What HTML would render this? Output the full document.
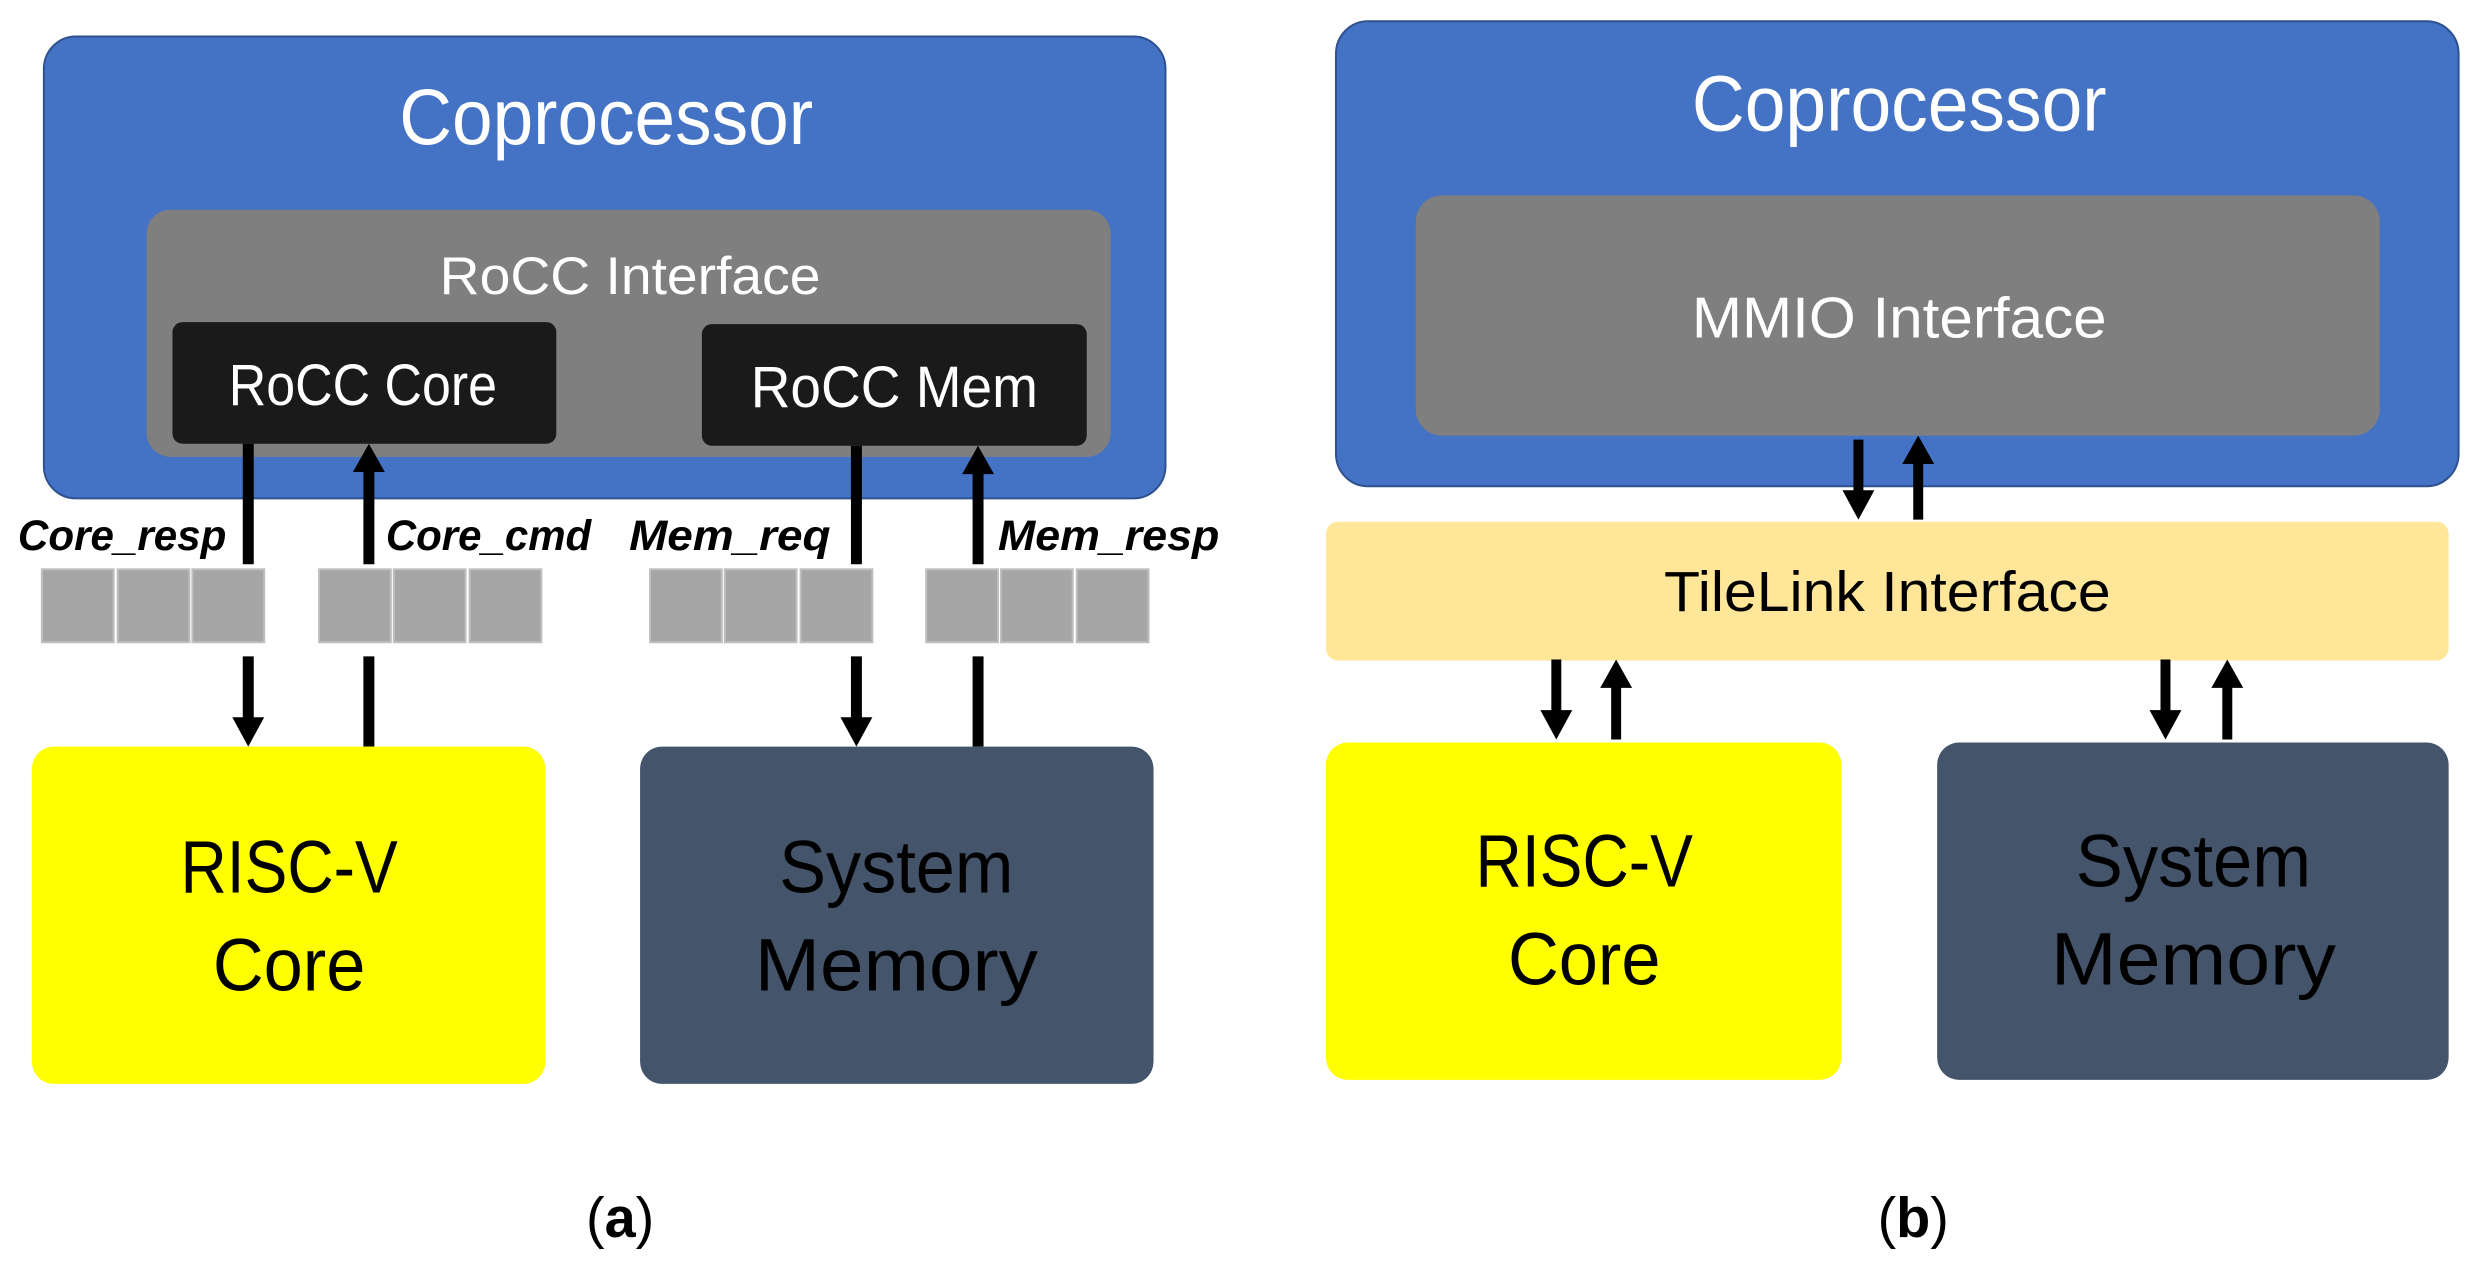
<!DOCTYPE html>
<html><head><meta charset="utf-8"><style>
html,body{margin:0;padding:0;background:#fff;}
svg{display:block;}
text{font-family:"Liberation Sans",sans-serif;}
</style></head><body>
<svg width="2483" height="1266" viewBox="0 0 2483 1266" xmlns="http://www.w3.org/2000/svg">
<g transform="scale(0.997,1.013)">
<!-- LEFT PANEL -->
<rect x="44" y="36" width="1125" height="456" rx="32" fill="#4472c4" stroke="#2f528f" stroke-width="2"/>
<text x="608" y="142" font-size="78" fill="#fff" text-anchor="middle" textLength="415" lengthAdjust="spacingAndGlyphs">Coprocessor</text>
<rect x="147" y="207" width="967" height="244" rx="24" fill="#7f7f7f"/>
<text x="632" y="290" font-size="52" fill="#fff" text-anchor="middle" textLength="382" lengthAdjust="spacingAndGlyphs">RoCC Interface</text>
<rect x="173" y="318" width="385" height="120" rx="10" fill="#1a1a1a"/>
<text x="364" y="400" font-size="58" fill="#fff" text-anchor="middle" textLength="269" lengthAdjust="spacingAndGlyphs">RoCC Core</text>
<rect x="704" y="320" width="386" height="120" rx="10" fill="#1a1a1a"/>
<text x="897" y="402" font-size="58" fill="#fff" text-anchor="middle" textLength="288" lengthAdjust="spacingAndGlyphs">RoCC Mem</text>

<g font-size="42" font-weight="bold" font-style="italic" fill="#000">
<text x="18" y="543" textLength="209" lengthAdjust="spacingAndGlyphs">Core_resp</text>
<text x="387" y="543" textLength="206" lengthAdjust="spacingAndGlyphs">Core_cmd</text>
<text x="631" y="543" textLength="202" lengthAdjust="spacingAndGlyphs">Mem_req</text>
<text x="1001" y="543" textLength="222" lengthAdjust="spacingAndGlyphs">Mem_resp</text>
</g>

<g fill="#a6a6a6" stroke="#bfbfbf" stroke-width="2">
<rect x="42" y="562" width="72" height="72"/><rect x="118" y="562" width="72" height="72"/><rect x="193" y="562" width="72" height="72"/>
<rect x="320" y="562" width="72" height="72"/><rect x="395" y="562" width="72" height="72"/><rect x="471" y="562" width="72" height="72"/>
<rect x="652" y="562" width="72" height="72"/><rect x="727" y="562" width="72" height="72"/><rect x="803" y="562" width="72" height="72"/>
<rect x="929" y="562" width="72" height="72"/><rect x="1004" y="562" width="72" height="72"/><rect x="1080" y="562" width="72" height="72"/>
</g>

<g stroke="#000" stroke-width="11" fill="none">
<line x1="249" y1="438" x2="249" y2="557"/>
<line x1="249" y1="648" x2="249" y2="712"/>
<line x1="370" y1="557" x2="370" y2="462"/>
<line x1="370" y1="648" x2="370" y2="737"/>
<line x1="859" y1="440" x2="859" y2="557"/>
<line x1="859" y1="648" x2="859" y2="712"/>
<line x1="981" y1="557" x2="981" y2="464"/>
<line x1="981" y1="648" x2="981" y2="737"/>
</g>
<g fill="#000">
<polygon points="233,708 265,708 249,737"/>
<polygon points="354,466 386,466 370,438"/>
<polygon points="843,708 875,708 859,737"/>
<polygon points="965,468 997,468 981,440"/>
</g>

<rect x="32" y="737" width="515" height="333" rx="22" fill="#ffff00"/>
<text x="290" y="881" font-size="73" fill="#000" text-anchor="middle" textLength="218" lengthAdjust="spacingAndGlyphs">RISC-V</text>
<text x="290" y="978" font-size="73" fill="#000" text-anchor="middle" textLength="153" lengthAdjust="spacingAndGlyphs">Core</text>
<rect x="642" y="737" width="515" height="333" rx="22" fill="#44546a"/>
<text x="899" y="881" font-size="73" fill="#000" text-anchor="middle" textLength="235" lengthAdjust="spacingAndGlyphs">System</text>
<text x="899" y="978" font-size="73" fill="#000" text-anchor="middle" textLength="284" lengthAdjust="spacingAndGlyphs">Memory</text>
<text x="622" y="1221" font-size="56" fill="#000" text-anchor="middle" font-family="Liberation Serif, serif">(<tspan font-weight="bold">a</tspan>)</text>

<!-- RIGHT PANEL -->
<rect x="1340" y="21" width="1126" height="459" rx="32" fill="#4472c4" stroke="#2f528f" stroke-width="2"/>
<text x="1905" y="129" font-size="78" fill="#fff" text-anchor="middle" textLength="416" lengthAdjust="spacingAndGlyphs">Coprocessor</text>
<rect x="1420" y="193" width="967" height="237" rx="26" fill="#7f7f7f"/>
<text x="1905" y="333" font-size="57" fill="#fff" text-anchor="middle" textLength="416" lengthAdjust="spacingAndGlyphs">MMIO Interface</text>
<rect x="1330" y="515" width="1126" height="137" rx="12" fill="#ffe699"/>
<text x="1893" y="603" font-size="56" fill="#000" text-anchor="middle" textLength="448" lengthAdjust="spacingAndGlyphs">TileLink Interface</text>

<g stroke="#000" stroke-width="10" fill="none">
<line x1="1864" y1="434" x2="1864" y2="488"/>
<line x1="1924" y1="513" x2="1924" y2="454"/>
<line x1="1561" y1="651" x2="1561" y2="705"/>
<line x1="1621" y1="730" x2="1621" y2="675"/>
<line x1="2172" y1="651" x2="2172" y2="705"/>
<line x1="2234" y1="730" x2="2234" y2="675"/>
</g>
<g fill="#000">
<polygon points="1848,484 1880,484 1864,513"/>
<polygon points="1908,458 1940,458 1924,430"/>
<polygon points="1545,701 1577,701 1561,730"/>
<polygon points="1605,679 1637,679 1621,651"/>
<polygon points="2156,701 2188,701 2172,730"/>
<polygon points="2218,679 2250,679 2234,651"/>
</g>

<rect x="1330" y="733" width="517" height="333" rx="22" fill="#ffff00"/>
<text x="1589" y="875" font-size="73" fill="#000" text-anchor="middle" textLength="218" lengthAdjust="spacingAndGlyphs">RISC-V</text>
<text x="1589" y="972" font-size="73" fill="#000" text-anchor="middle" textLength="153" lengthAdjust="spacingAndGlyphs">Core</text>
<rect x="1943" y="733" width="513" height="333" rx="22" fill="#44546a"/>
<text x="2200" y="875" font-size="73" fill="#000" text-anchor="middle" textLength="236" lengthAdjust="spacingAndGlyphs">System</text>
<text x="2200" y="972" font-size="73" fill="#000" text-anchor="middle" textLength="286" lengthAdjust="spacingAndGlyphs">Memory</text>
<text x="1919" y="1221" font-size="56" fill="#000" text-anchor="middle" font-family="Liberation Serif, serif">(<tspan font-weight="bold">b</tspan>)</text>
</g>
</svg>
</body></html>
